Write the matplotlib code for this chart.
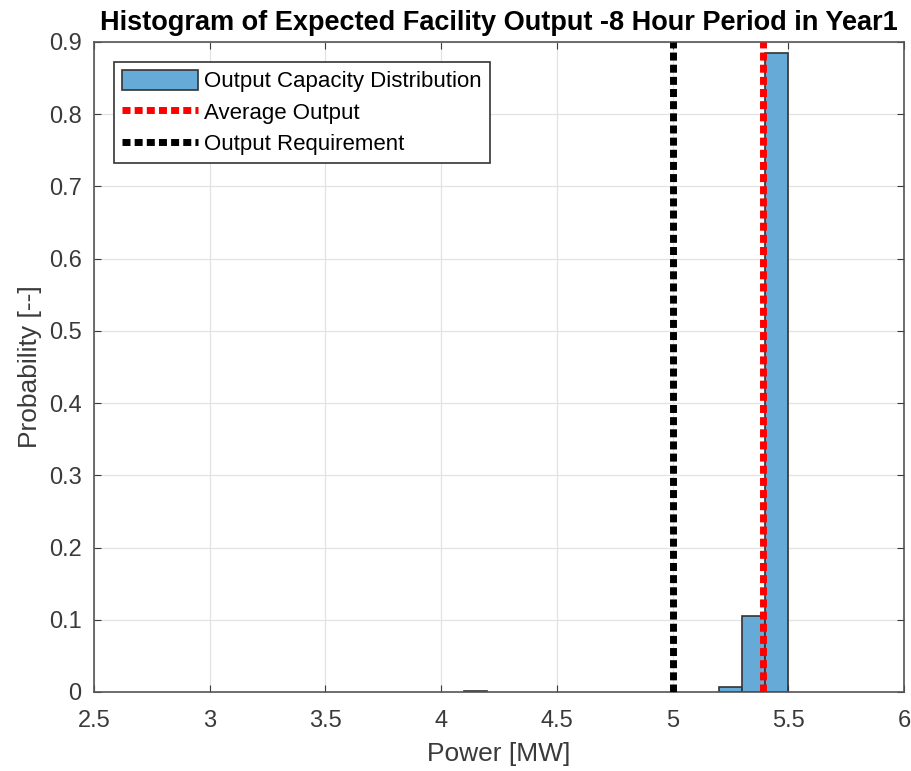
import matplotlib
matplotlib.use("Agg")
import matplotlib.pyplot as plt

# Histogram bins (left edges, width 0.1 MW) and probabilities
bin_left = [4.1, 5.2, 5.3, 5.4]
bin_width = 0.1
probability = [0.002, 0.007, 0.105, 0.885]

average_output = 5.39
output_requirement = 5.0

x_ticks = [2.5, 3, 3.5, 4, 4.5, 5, 5.5, 6]
y_ticks = [0, 0.1, 0.2, 0.3, 0.4, 0.5, 0.6, 0.7, 0.8, 0.9]

plt.rcParams["font.family"] = ["Liberation Sans", "DejaVu Sans"]

fig = plt.figure(figsize=(9.11, 7.71), dpi=100)
# axes box in pixels: left 94, right 904, top 42, bottom 692
ax = fig.add_axes([94 / 911, (771 - 692) / 771, 810 / 911, 650 / 771])

bars = ax.bar(bin_left, probability, width=bin_width, align="edge",
              color="#66AAD7", edgecolor="#333333", linewidth=1.2,
              label="Output Capacity Distribution", zorder=2)
avg = ax.axvline(average_output, color="red", linestyle=(0, (1.15, 0.6)),
                 linewidth=5, label="Average Output", zorder=3)
req = ax.axvline(output_requirement, color="black", linestyle=(0, (1.15, 0.6)),
                 linewidth=5, label="Output Requirement", zorder=3)

ax.set_xlim(2.5, 6)
ax.set_ylim(0, 0.9)
ax.set_xticks(x_ticks)
ax.set_xticklabels([f"{t:g}" for t in x_ticks])
ax.set_yticks(y_ticks)
ax.set_yticklabels([f"{t:g}" for t in y_ticks])
ax.tick_params(labelsize=17, colors="#3a3a3a", direction="in", length=5,
               top=True, right=True)
ax.tick_params(axis="x", pad=13)
ax.tick_params(axis="y", pad=9)
ax.grid(True, color="#e3e3e3", linewidth=0.9, zorder=0)
ax.set_axisbelow(True)
for s in ax.spines.values():
    s.set_color("#555555")
    s.set_linewidth(1.2)

ax.set_xlabel("Power [MW]", fontsize=19, color="#3a3a3a", labelpad=7)
ax.set_ylabel("Probability [--]", fontsize=19, color="#3a3a3a", labelpad=5)
ax.set_title("Histogram of Expected Facility Output -8 Hour Period in Year1",
             fontsize=19.5, fontweight="bold", pad=9)

leg = ax.legend(handles=[bars, avg, req], loc="upper left",
                bbox_to_anchor=(0.025, 0.969), fontsize=16,
                frameon=True, fancybox=False, edgecolor="#333333",
                framealpha=1, handlelength=3.4, handleheight=1.0,
                labelspacing=0.4, borderpad=0.35, handletextpad=0.3,
                borderaxespad=0)
leg.get_frame().set_linewidth(1.2)

fig.savefig("out.png", dpi=100)
